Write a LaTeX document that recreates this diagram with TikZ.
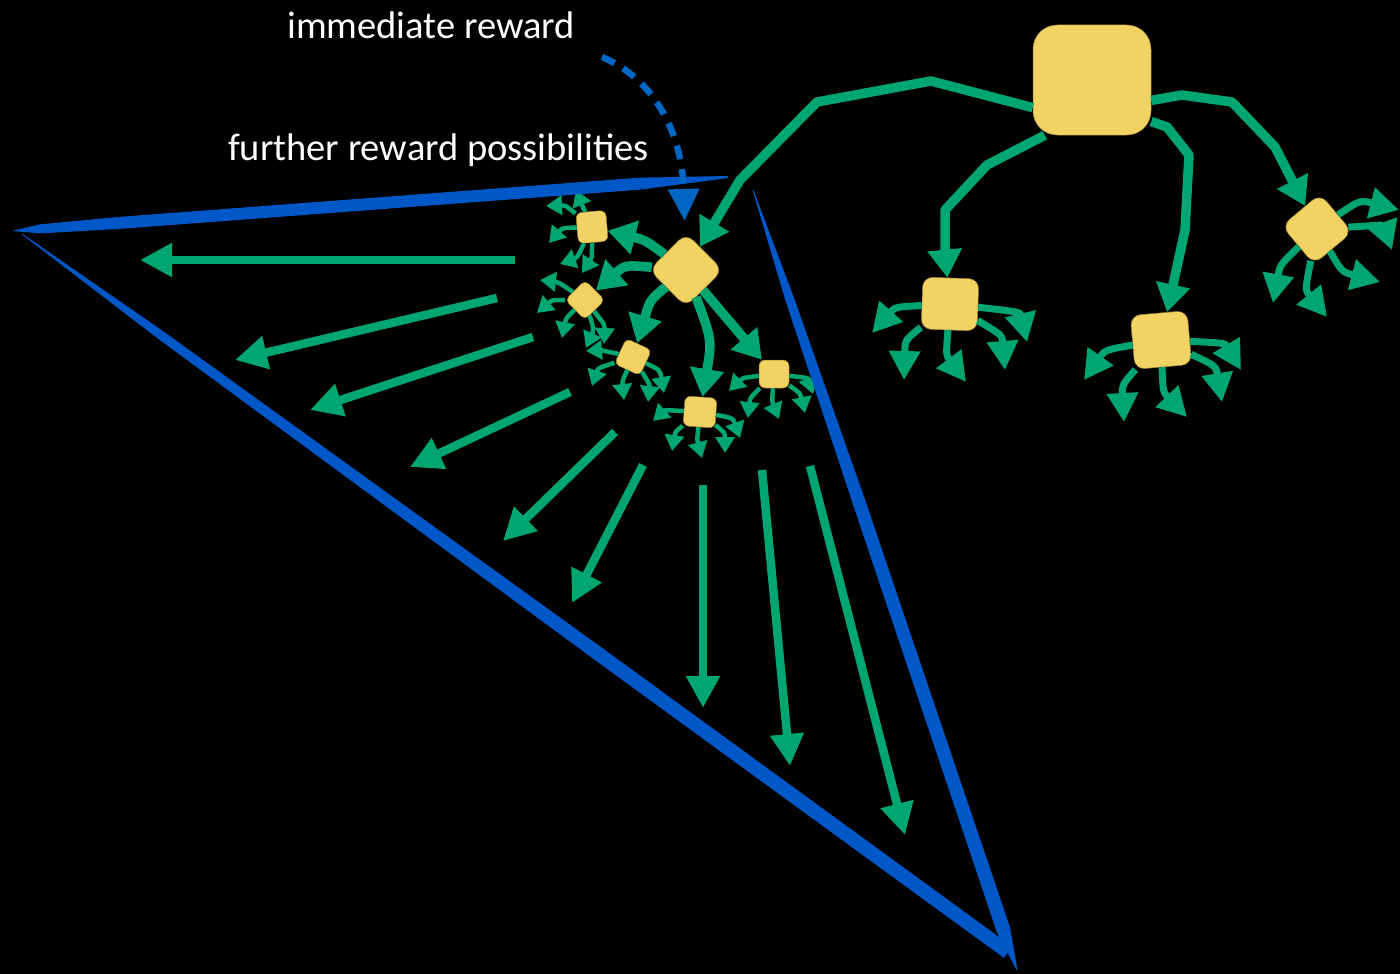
\documentclass[tikz,border=0pt]{standalone}
\usepackage{fontspec}
\setmainfont{Carlito}
\usepackage{tikz}
\usetikzlibrary{arrows.meta, calc}

\definecolor{leafgreen}{RGB}{0,166,114}
\definecolor{tileyellow}{RGB}{242,210,98}
\definecolor{tileedge}{RGB}{150,125,50}
\definecolor{coneblue}{RGB}{0,88,200}
\definecolor{dashblue}{RGB}{0,104,196}

% one tapered piece of a brush stroke: from #1 to #2, half widths #3 and #4
\newcommand{\brush}[4]{%
  \fill[coneblue] ($#1!#3!90:#2$) -- ($#2!#4!-90:#1$) -- ($#2!#4!90:#1$) -- ($#1!#3!-90:#2$) -- cycle;}

\tikzset{
  tile/.style={fill=tileyellow, draw=tileedge, line width=0.5pt, inner sep=0pt},
  bigarrow/.style={leafgreen, line width=9.5pt, line join=round, -{Triangle[length=28pt,width=33pt]}},
  fanarrow/.style={leafgreen, line width=8.5pt, -{Triangle[length=32pt,width=32pt]}},
  sprout/.style={leafgreen, line width=7pt, -{Triangle[length=29pt,width=30pt]}},
  twig/.style={leafgreen, line width=4.5pt, -{Triangle[length=16pt,width=19pt]}},
  rewardarrow/.style={dashblue, line width=6.5pt, dash pattern=on 14pt off 10pt, -{Triangle[length=32pt,width=30pt]}},
  label/.style={anchor=base west, inner sep=0pt, text=white, font=\fontsize{38.5}{46}\selectfont},
}

\begin{document}
\begin{tikzpicture}[x=1pt, y=-1pt]
    \fill[black] (0,0) rectangle (1400,974);
    \useasboundingbox (0,0) rectangle (1400,974);

    % states
    \node[tile, minimum width=118pt, minimum height=110pt, rounded corners=24pt] (root) at (1092,80) {};
    \node[tile, minimum size=52pt, rounded corners=10pt, rotate=45] (D) at (686,270) {};
    \node[tile, minimum width=56pt, minimum height=52pt, rounded corners=10pt, rotate=-2] (A) at (950,304) {};
    \node[tile, minimum width=57pt, minimum height=54pt, rounded corners=10pt, rotate=5] (B) at (1161,340) {};
    \node[tile, minimum size=50pt, rounded corners=10pt, rotate=40] (C) at (1317,229) {};

    \node[tile, minimum width=30pt, minimum height=31pt, rounded corners=6pt, rotate=5] (s1) at (592,227) {};
    \node[tile, minimum size=28pt, rounded corners=5pt, rotate=45] (s2) at (585,300) {};
    \node[tile, minimum size=28pt, rounded corners=5pt, rotate=-25] (s3) at (633,357) {};
    \node[tile, minimum width=32pt, minimum height=30pt, rounded corners=6pt, rotate=-4] (s4) at (700,412) {};
    \node[tile, minimum width=30pt, minimum height=28pt, rounded corners=6pt] (s5) at (774,374) {};

    % first step from the root
    \draw[bigarrow] (root.205) -- (931,81) -- (817,102) -- (740,180) -- (D);
    \draw[bigarrow] ([xshift=12pt]root.south west) -- (987,165) -- (945,210) -- (945,253) -- (A);
    \draw[bigarrow] (root.-35) -- (1167,127) -- (1189,155) -- (1185,230) -- (B);
    \draw[bigarrow] (root.-19) -- (1182,95) -- (1232,102) -- (1275,147) -- (C);

    % second step
    \draw[bigarrow] (D) .. controls (645,240) .. (s1);
    \draw[bigarrow] (D) .. controls (625,265) .. (s2);
    \draw[bigarrow] (D) .. controls (650,300) .. (s3);
    \draw[bigarrow] (D) .. controls (712,340) .. (s4);
    \draw[bigarrow] (D) -- (s5);

    \foreach \cx/\cy/\tx/\ty in {895/307/872/333, 905/340/904/380, 946/355/966/382,
                                 1002/335/1005/370, 1020/312/1027/342}
      \draw[sprout] (A) .. controls (\cx,\cy) .. (\tx,\ty);
    \foreach \cx/\cy/\tx/\ty in {1105/350/1084/380, 1122/385/1124/422, 1163/392/1187/417,
                                 1216/366/1222/402, 1225/343/1241/370}
      \draw[sprout] (B) .. controls (\cx,\cy) .. (\tx,\ty);
    \foreach \cx/\cy/\tx/\ty in {1360/200/1399/210, 1383/225/1392/250, 1280/265/1273/303,
                                 1305/290/1327/317, 1342/272/1380/282}
      \draw[sprout] (C) .. controls (\cx,\cy) .. (\tx,\ty);

    % third step, small
    \foreach \cx/\cy/\tx/\ty in {582/205/576/190, 565/205/546/206, 562/228/549/243,
                                 577/258/560/264, 592/258/582/273}
      \draw[twig] (s1) .. controls (\cx,\cy) .. (\tx,\ty);
    \foreach \cx/\cy/\tx/\ty in {558/282/540/280, 552/300/537/313, 566/318/562/338,
                                 594/330/586/348, 605/325/604/344}
      \draw[twig] (s2) .. controls (\cx,\cy) .. (\tx,\ty);
    \foreach \cx/\cy/\tx/\ty in {600/350/586/351, 598/368/592/386, 622/382/624/400,
                                 650/385/648/402, 660/370/664/393}
      \draw[twig] (s3) .. controls (\cx,\cy) .. (\tx,\ty);
    \foreach \cx/\cy/\tx/\ty in {665/410/653/421, 675/432/672/451, 697/440/702/458,
                                 725/433/725/453, 733/418/740/438}
      \draw[twig] (s4) .. controls (\cx,\cy) .. (\tx,\ty);
    \foreach \cx/\cy/\tx/\ty in {742/378/729/391, 750/398/748/418, 772/402/779/419,
                                 801/394/805/413, 808/378/813/394}
      \draw[twig] (s5) .. controls (\cx,\cy) .. (\tx,\ty);

    % the far future, fanning out
    \foreach \xa/\ya/\xb/\yb [count=\i] in {515/260/140/260, 497/298/235/360, 533/337/310/410,
                                            570/392/410/467, 615/432/503/541, 643/465/572/603,
                                            703/485/703/708, 762/470/790/766, 810/466/905/835} {
      \coordinate (fan\i a) at (\xa,\ya);
      \coordinate (fan\i b) at (\xb,\yb);
      \draw[fanarrow] (fan\i a) -- (fan\i b);
    }

    % the cone
    \coordinate (T0) at (12,231);
    \coordinate (T1) at (40,228.9);
    \coordinate (T2) at (120,222.85);
    \coordinate (T3) at (640,183.64);
    \coordinate (T4) at (728,177);
    \brush{(T0)}{(T1)}{0pt}{4.5pt}
    \brush{(T1)}{(T2)}{4.5pt}{6pt}
    \brush{(T2)}{(T3)}{6pt}{6pt}
    \brush{(T3)}{(T4)}{6pt}{1pt}

    \coordinate (L0) at (22,234);
    \coordinate (L1) at (160,334.5);
    \coordinate (L2) at (600,655);
    \coordinate (L3) at (1008,952.2);
    \brush{(L0)}{(L1)}{0.4pt}{4.5pt}
    \brush{(L1)}{(L2)}{4.5pt}{7pt}
    \brush{(L2)}{(L3)}{7pt}{7pt}

    \coordinate (R0) at (753,190);
    \coordinate (R1) at (790,300);
    \coordinate (R2) at (860,505);
    \coordinate (R3) at (1003.5,930);
    \coordinate (R4) at (1017,970);
    \brush{(R0)}{(R1)}{0.4pt}{4.5pt}
    \brush{(R1)}{(R2)}{4.5pt}{6.5pt}
    \brush{(R2)}{(R3)}{6.5pt}{7pt}
    \brush{(R3)}{(R4)}{7pt}{0.5pt}

    % labels
    \node[label] (imm) at (287,39) {immediate reward};
    \node[label] (further) at (228,160) {further reward possibilities};

    \coordinate (dashstart) at (602,57);
    \draw[rewardarrow, shorten >=13pt] (dashstart) .. controls (652,78) and (682,130) .. (D);
\end{tikzpicture}
\end{document}
